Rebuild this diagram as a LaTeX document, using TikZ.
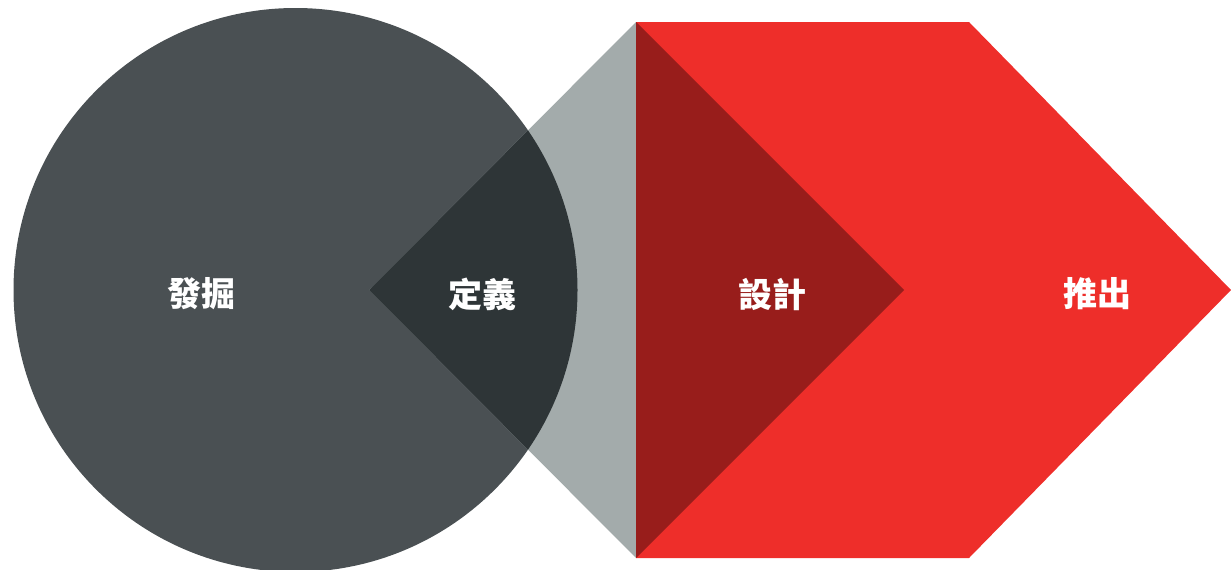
\documentclass[tikz,border=0pt]{standalone}
\usepackage{fontspec}
\newfontfamily\cjk{Noto Sans CJK TC}
\definecolor{circ}{HTML}{4A5053}
\definecolor{over}{HTML}{2E3537}
\definecolor{grayd}{HTML}{A3ABAB}
\definecolor{redm}{HTML}{EE2E2A}
\definecolor{redd}{HTML}{981D1B}
\begin{document}
\begin{tikzpicture}[x=1pt,y=-1pt,
  lbl/.style={text=white,font=\cjk\bfseries\fontsize{34}{34}\selectfont,inner sep=0pt,anchor=center}]
\useasboundingbox (0,0) rectangle (1231,570);
\coordinate (cc) at (295.5,290);
\coordinate (dl) at (369,290);
\coordinate (dt) at (636,22);
\coordinate (db) at (636,558);
\coordinate (dr) at (904,290);
\coordinate (rt) at (969,22);
\coordinate (rb) at (969,558);
\coordinate (tip) at (1231,290);
% circle
\fill[circ] (cc) circle[radius=282];
% gray half diamond
\fill[grayd] (dl) -- (dt) -- (db) -- cycle;
% overlap
\begin{scope}
\clip (cc) circle[radius=282];
\fill[over] (dl) -- (dt) -- (db) -- cycle;
\end{scope}
% red arrow
\fill[redm] (dt) -- (rt) -- (tip) -- (rb) -- (db) -- cycle;
% dark red triangle
\fill[redd] (dt) -- (dr) -- (db) -- cycle;
% labels
\node[lbl] (a) at (201.5,294) {發掘};
\node[lbl] (b) at (482.5,294) {定義};
\node[lbl] (c) at (772.5,294) {設計};
\node[lbl] (d) at (1097.5,294) {推出};
\end{tikzpicture}
\end{document}
